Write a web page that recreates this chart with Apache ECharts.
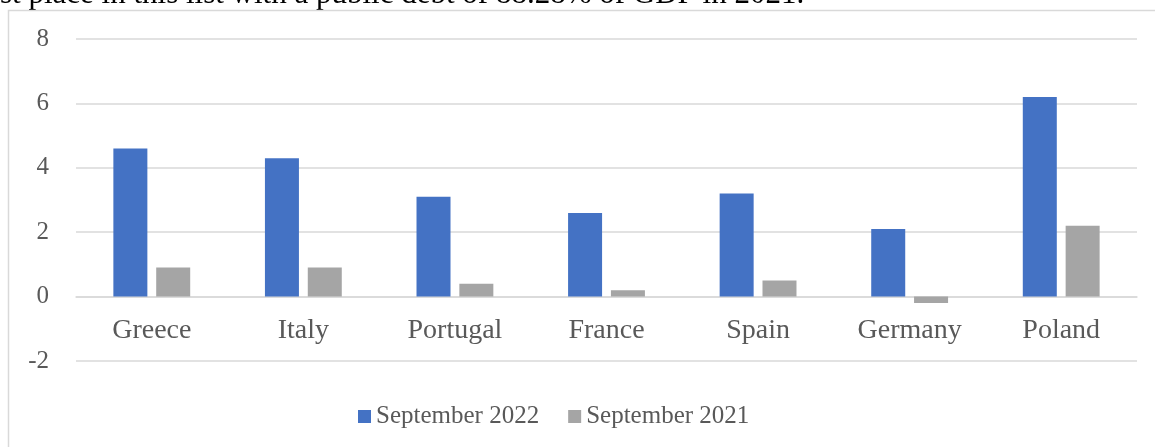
<!DOCTYPE html>
<html>
<head>
<meta charset="utf-8">
<script src="https://cdn.jsdelivr.net/npm/echarts@6/dist/echarts.min.js"></script>
<style>
  html, body { margin: 0; padding: 0; background: #fff; }
  #main { width: 1155px; height: 447px; }
</style>
</head>
<body>
<div id="main"></div>
<script>
var countries = ['Greece', 'Italy', 'Portugal', 'France', 'Spain', 'Germany', 'Poland'];
var sep2022 = [4.6, 4.3, 3.1, 2.6, 3.2, 2.1, 6.2];
var sep2021 = [0.9, 0.9, 0.4, 0.2, 0.5, -0.2, 2.2];
var seriesNames = ['September 2022', 'September 2021'];

var chart = echarts.init(document.getElementById('main'));
var serif = '"Liberation Serif", "DejaVu Serif", serif';

var option = {
  animation: false,
  graphic: [
    {
      // cut-off text line from the page above the chart
      type: 'text',
      left: 0,
      top: -21,
      style: {
        text: 'st place in this list with a public debt of 88.28% of GDP in 2021.',
        font: '31px ' + serif,
        fill: '#000'
      }
    },
    {
      type: 'rect',
      shape: { x: 8.5, y: 10.5, width: 1200, height: 500 },
      style: { fill: '#fff', stroke: '#d9d9d9', lineWidth: 1.5 }
    }
  ],
  grid: {
    left: 76,
    right: 18,
    top: 39,
    height: 322
  },
  legend: {
    left: 353,
    top: 399,
    itemWidth: 13,
    itemHeight: 13,
    itemGap: 29,
    icon: 'rect',
    textStyle: { fontFamily: serif, fontSize: 25, color: '#595959' },
    data: seriesNames
  },
  xAxis: {
    type: 'category',
    data: countries,
    // category axis sits on the zero line
    offset: -64.4,
    axisLine: { onZero: false, lineStyle: { color: '#d9d9d9', width: 1.5 } },
    axisTick: { show: false },
    axisLabel: { fontFamily: serif, fontSize: 28, color: '#595959', margin: 20 }
  },
  yAxis: {
    type: 'value',
    min: -2,
    max: 8,
    interval: 2,
    axisLine: { show: false },
    axisTick: { show: false },
    splitLine: { lineStyle: { color: '#d9d9d9', width: 1.5 } },
    axisLabel: { fontFamily: serif, fontSize: 25, color: '#595959', margin: 27 }
  },
  series: [
    {
      name: seriesNames[0],
      type: 'bar',
      data: sep2022,
      barWidth: 34,
      barGap: '26%',
      itemStyle: { color: '#4472C4' }
    },
    {
      name: seriesNames[1],
      type: 'bar',
      data: sep2021,
      barWidth: 34,
      itemStyle: { color: '#A5A5A5' }
    }
  ]
};
chart.setOption(option);
</script>
</body>
</html>
